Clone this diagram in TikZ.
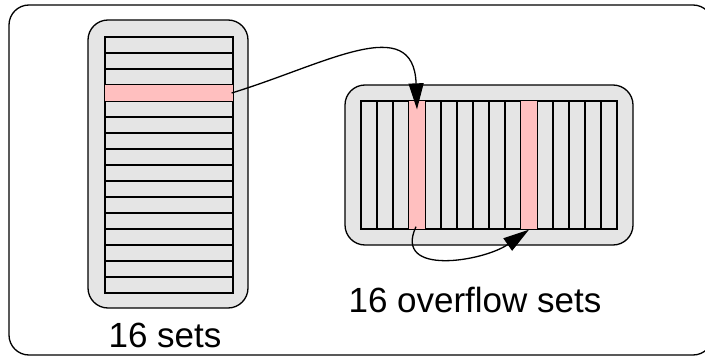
\documentclass[tikz,border=0pt]{standalone}
\usepackage{fontspec}
\setmainfont{Liberation Sans}
\usetikzlibrary{calc,arrows.meta}
\tikzset{%
  outline/.style={draw,line width=1.3pt,rounded corners=20pt},
  setbox/.style={draw,fill=black!10,line width=1.3pt,rounded corners=20pt,inner sep=0},
  cell/.style={draw,fill=black!10,line width=1.3pt,inner sep=0},
  hotcell/.style={fill=red!25},
  jump/.style={line width=1.3pt,-{Triangle[length=26pt,width=15pt]}},
  caption/.style={font=\fontsize{35}{40}\selectfont,inner sep=0}
}

\begin{document}
\begin{tikzpicture}[x=1pt,y=-1pt]
    \useasboundingbox (0,0) rectangle (705,356);
    \draw[outline] (9,5) rectangle (713,355);
    \path
      (168,164) node[setbox,minimum width=160pt,minimum height=288pt] (sets) {}
      (489,165) node[setbox,minimum width=288pt,minimum height=160pt] (overflow) {};
    % rows of the set table
    \foreach \i in {1,...,16}
      \node[cell,minimum width=128pt,minimum height=16pt] (r\i) at (169,{37+16*(\i-0.5)}) {};
    % columns of the overflow table
    \foreach \i in {1,...,16}
      \node[cell,minimum width=16pt,minimum height=128pt] (c\i) at ({361+16*(\i-0.5)},165) {};
    \path[hotcell] (r4.south west) rectangle (r4.north east);
    \path[hotcell] (c4.south west) rectangle (c4.north east);
    \path[hotcell] (c11.south west) rectangle (c11.north east);
    \draw[line width=1.3pt] (r4.south west) rectangle (r4.north east);
    \draw[line width=1.3pt] (c4.south west) rectangle (c4.north east);
    \draw[line width=1.3pt] (c11.south west) rectangle (c11.north east);
    \draw[jump] ($(r4.east)+(-2,0)$) to[out=17,in=92,looseness=1.35] ($(c4.north)+(0,9)$);
    \draw[jump] ($(c4.south)+(-1,-3)$) to[out=-115,in=-145,looseness=1.25] (c11.south);
    \node[caption] (setslabel) at (165,335) {16 sets};
    \node[caption] (overflowlabel) at (475,300) {16 overflow sets};
\end{tikzpicture}
\end{document}
